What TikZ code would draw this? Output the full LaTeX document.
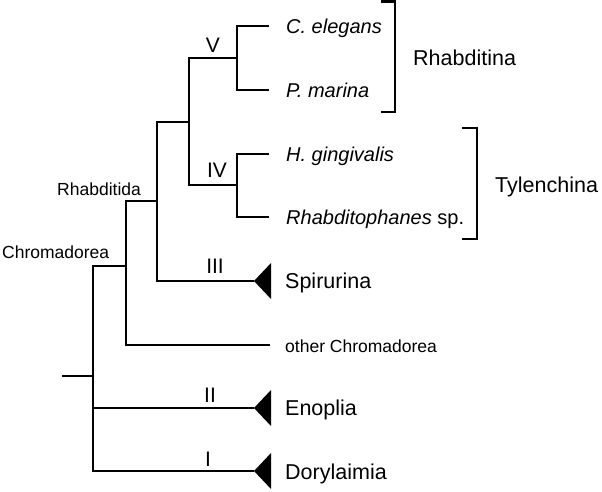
\documentclass[tikz,border=0pt]{standalone}
\usepackage{fontspec}
\setmainfont{Liberation Sans}
\begin{document}
\begin{tikzpicture}[x=1pt,y=-1pt,
  branch/.style={line width=2.1pt,line join=miter},
  tri/.style={fill=black},
  species/.style={anchor=base west,inner sep=0pt,font=\fontsize{20}{23}\selectfont\itshape},
  grouplbl/.style={anchor=base west,inner sep=0pt,font=\fontsize{21.5}{24}\selectfont},
  small/.style={anchor=base west,inner sep=0pt,font=\fontsize{17.5}{20}\selectfont},
  numeral/.style={anchor=base,inner sep=0pt,font=\fontsize{21}{24}\selectfont}]
\useasboundingbox (0,0) rectangle (602,491);
% internal nodes
\coordinate (root) at (62,376);
\coordinate (nC) at (93,376);
\coordinate (nR) at (126,266);
\coordinate (n3) at (157,201);
\coordinate (nA) at (189,122);
\coordinate (nV) at (237,58);
\coordinate (nIV) at (237,185);
% leaves
\coordinate (ce) at (269,26);
\coordinate (pm) at (269,90);
\coordinate (hg) at (269,154);
\coordinate (rh) at (269,217);
\coordinate (sp) at (254,281);
\coordinate (oc) at (270,345);
\coordinate (en) at (254,408);
\coordinate (do) at (254,471);
% tree
\draw[branch] (root) -- (nC);
\draw[branch] (nC) |- (nR);
\draw[branch] (nC) |- (en);
\draw[branch] (nC) |- (do);
\draw[branch] (nR) |- (n3);
\draw[branch] (nR) |- (oc);
\draw[branch] (n3) |- (nA);
\draw[branch] (n3) |- (sp);
\draw[branch] (nA) |- (nV);
\draw[branch] (nA) |- (nIV);
\draw[branch] (nV) |- (ce);
\draw[branch] (nV) |- (pm);
\draw[branch] (nIV) |- (hg);
\draw[branch] (nIV) |- (rh);
% collapsed clades
\fill[tri] (sp) -- ++(17,-18) -- ++(0,36) -- cycle;
\fill[tri] (en) -- ++(17,-18) -- ++(0,36) -- cycle;
\fill[tri] (do) -- ++(17,-18) -- ++(0,36) -- cycle;
% brackets
\coordinate (b1t) at (381,1.5);
\coordinate (b1b) at (381,112);
\draw[branch] (b1t) -- ++(14,0) |- (b1b);
\coordinate (b2t) at (462,128);
\coordinate (b2b) at (462,239);
\draw[branch] (b2t) -- ++(15,0) |- (b2b);
% labels
\node[species] (lce) at (286,33) {C. elegans};
\node[species] (lpm) at (286,97) {P. marina};
\node[species] (lhg) at (286,161) {H. gingivalis};
\node[species] (lrh) at (286,224) {Rhabditophanes\upshape\ sp.};
\node[grouplbl] (lrb) at (413,65) {Rhabditina};
\node[grouplbl] (lty) at (495,192) {Tylenchina};
\node[grouplbl] (lsp) at (285,288) {Spirurina};
\node[small] (loc) at (285,352) {other Chromadorea};
\node[grouplbl] (len) at (285,415) {Enoplia};
\node[grouplbl] (ldo) at (285,479) {Dorylaimia};
\node[small] (lrd) at (57,195) {Rhabditida};
\node[small] (lch) at (2,258) {Chromadorea};
\node[numeral] (nuV) at (213,52) {V};
\node[numeral] (nuIV) at (217,177) {IV};
\node[numeral] (nuIII) at (215,273) {III};
\node[numeral] (nuII) at (210,402) {II};
\node[numeral] (nuI) at (208,466) {I};
\end{tikzpicture}
\end{document}
